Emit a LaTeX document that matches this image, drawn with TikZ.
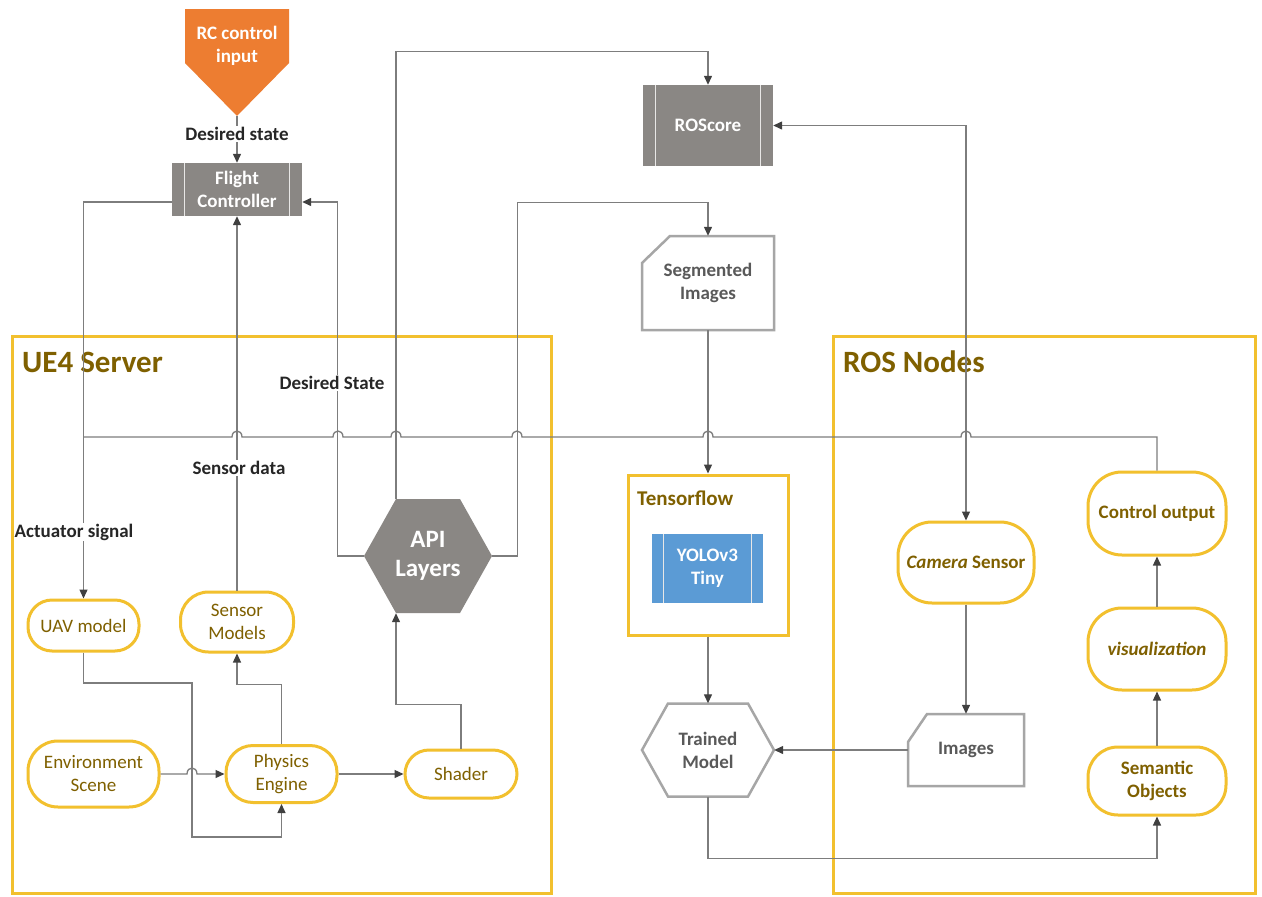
\documentclass[tikz,border=0pt]{standalone}
\usepackage{fontspec}
\setmainfont{Carlito}
\usetikzlibrary{arrows.meta,calc}
\definecolor{olivetext}{RGB}{127,96,0}
\definecolor{gold}{RGB}{242,192,46}
\definecolor{procgray}{RGB}{138,135,132}
\definecolor{wiregray}{RGB}{125,125,125}
\definecolor{tipgray}{RGB}{64,64,64}
\definecolor{cardgray}{RGB}{166,166,166}
\definecolor{cardtext}{RGB}{89,89,89}
\definecolor{rcorange}{RGB}{237,125,49}
\definecolor{yoloblue}{RGB}{91,155,213}
\definecolor{labeltext}{RGB}{38,38,38}
\tikzset{
  wire/.style={draw=wiregray, line width=1.3pt},
  flow/.style={wire, -{Triangle[length=9pt, width=8pt, color=tipgray]}},
  biflow/.style={wire, {Triangle[length=9pt, width=8pt, color=tipgray]}-{Triangle[length=9pt, width=8pt, color=tipgray]}},
  txt/.style={font=\bfseries\fontsize{19}{23}\selectfont},
  lbl/.style={txt, text=labeltext, fill=white, inner sep=1pt},
  proc/.style={rectangle, fill=procgray, text=white, txt, align=center, inner sep=0pt},
  procbar/.style={draw=white!80!procgray, line width=0.8pt},
  pill/.style={rectangle, rounded corners=#1, draw=gold, line width=3pt, fill=white,
    text=olivetext, align=center, inner sep=0pt, font=\fontsize{19}{23}\selectfont},
  pill/.default=24pt,
  pillb/.style={pill=#1, txt},
  pillb/.default=34pt,
  container/.style={draw=gold, line width=3pt, rectangle, inner sep=0pt},
  title/.style={font=\bfseries\fontsize{31}{35}\selectfont, text=olivetext, anchor=west, inner sep=0pt},
  ghost/.style={rectangle, inner sep=0pt, align=center, txt, text=cardtext},
  outline/.style={draw=cardgray, line width=2.5pt, line join=miter},
}
\begin{document}
\begin{tikzpicture}[x=1pt,y=-1pt]
\fill[white] (0,0) rectangle (1262,897);
\useasboundingbox (0,0) rectangle (1262,897);

% group frames
\node[container, minimum width=539pt, minimum height=557pt] (ue4box) at (281.5,614.5) {};
\node[title] (ue4title) at (22,362) {UE4 Server};
\node[container, minimum width=422pt, minimum height=557pt] (rosbox) at (1044,614.5) {};
\node[title] (rostitle) at (843,362) {ROS Nodes};
\node[container, minimum width=160pt, minimum height=160pt] (tf) at (708,555) {};
\node[title, font=\bfseries\fontsize{21}{25}\selectfont] (tftitle) at (637,498) {Tensorflow};

% RC input (off-page connector)
\fill[rcorange] (185,9) -- (289,9) -- (289,63) -- (237,116) -- (185,63) -- cycle;
\node[txt, text=white, align=center] (rc) at (237,46) {RC control\\input};
\coordinate (rctip) at (237,116);

% flight controller
\node[proc, minimum width=130pt, minimum height=53pt] (fc) at (237,189.5) {Flight\\Controller};
\draw[procbar] ([xshift=13pt]fc.north west) -- ([xshift=13pt]fc.south west);
\draw[procbar] ([xshift=-13pt]fc.north east) -- ([xshift=-13pt]fc.south east);

% ROScore
\node[proc, minimum width=130pt, minimum height=81pt] (ros) at (708,125.5) {ROScore};
\draw[procbar] ([xshift=13pt]ros.north west) -- ([xshift=13pt]ros.south west);
\draw[procbar] ([xshift=-13pt]ros.north east) -- ([xshift=-13pt]ros.south east);

% segmented images card
\draw[outline] (670,236) -- (774,236) -- (774,330) -- (642,330) -- (642,263) -- cycle;
\node[ghost, minimum width=132pt, minimum height=94pt] (seg) at (708,283) {Segmented\\Images};

% YOLO block
\node[proc, fill=yoloblue, minimum width=111pt, minimum height=69pt] (yolo) at (707.5,568.5) {YOLOv3\\Tiny};
\draw[procbar] ([xshift=12pt]yolo.north west) -- ([xshift=12pt]yolo.south west);
\draw[procbar] ([xshift=-12pt]yolo.north east) -- ([xshift=-12pt]yolo.south east);

% trained model hexagon
\draw[outline] (668,703.5) -- (748,703.5) -- (774,750) -- (748,796.5) -- (668,796.5) -- (642,750) -- cycle;
\node[ghost, minimum width=132pt, minimum height=93pt] (tm) at (708,750) {Trained\\Model};

% images card
\draw[outline] (927,714) -- (1024,714) -- (1024,786) -- (908,786) -- (908,742) -- cycle;
\node[ghost, minimum width=116pt, minimum height=72pt] (img) at (966,750) {Images};

% API layers hexagon
\fill[procgray] (364,556) -- (396,499) -- (460,499) -- (492,556) -- (460,613) -- (396,613) -- cycle;
\node[txt, text=white, font=\bfseries\fontsize{25}{29}\selectfont, align=center,
      minimum width=128pt, minimum height=114pt, inner sep=0pt] (api) at (428,556) {API\\Layers};

% ROS nodes
\node[pillb, minimum width=136pt, minimum height=81pt] (cam) at (966,562.5) {\textit{Camera} Sensor};
\node[pillb, minimum width=138pt, minimum height=83pt] (ctrl) at (1157,513.5) {Control output};
\node[pillb, minimum width=138pt, minimum height=82pt] (vis) at (1157,649) {\textit{visualization}};
\node[pillb=30pt, minimum width=138pt, minimum height=68pt] (sem) at (1157,781) {Semantic\\Objects};

% UE4 nodes
\node[pill, minimum width=111pt, minimum height=51pt] (uav) at (83.5,625.5) {UAV model};
\node[pill=28pt, minimum width=113pt, minimum height=60pt] (sensor) at (237,622) {Sensor\\Models};
\node[pill=30pt, minimum width=131pt, minimum height=66pt] (env) at (93.5,774) {Environment\\Scene};
\node[pill=27pt, minimum width=111pt, minimum height=57pt] (phys) at (281.5,774) {Physics\\Engine};
\node[pill, minimum width=112pt, minimum height=48pt] (shader) at (461,774) {Shader};

% control input path
\draw[flow] (rctip) -- (fc.north);
\node[lbl] (ldesired) at (237,134) {Desired state};

% actuator path
\draw[flow] ([yshift=-12.5pt]fc.west) -| (uav.north);
\node[lbl] (lact) at (74,532) {Actuator signal};

% API connections
\draw[flow] (api.west) -- ++(-26,0) |- ([yshift=-12.5pt]fc.east);
\node[lbl] (ldstate) at (332,383) {Desired State};
\draw[flow] ([xshift=-32pt]api.north) |- ($(ros.north)+(0,-33)$) -- (ros.north);
\draw[flow] (api.east) -- ++(25,0) |- ($(seg.north)+(0,-33)$) -- (seg.north);

% perception chain
\draw[flow] (seg.south) -- (tf.north);
\draw[flow] (tf.south) -- (tm.north);
\draw[flow] (img.west) -- (tm.east);
\draw[flow] (tm.south) |- ($(sem.south)+(0,42)$) -- (sem.south);
\draw[flow] (cam.south) -- (img.north);
\draw[biflow] (ros.east) -| (cam.north);
\draw[flow] (sem.north) -- (vis.south);
\draw[flow] (vis.north) -- (ctrl.south);

% control output bus, hopping over the vertical lines
\coordinate (busR) at (1157,437);
\draw[wire] (ctrl.north) -- (busR)
  foreach \hx in {966,708,517,396,338,237} {
    -- (\hx+5,437) .. controls (\hx+5,429) and (\hx-5,429) .. (\hx-5,437)
  } -- (uav.north |- busR);

% sensor data
\draw[flow] (sensor.north) -- (fc.south);
\node[lbl] (lsensor) at (239,468) {Sensor data};

% simulation internals
\coordinate (uavbendA) at (192,683);
\coordinate (uavbendB) at (192,837);
\draw[flow] (uav.south) |- (uavbendA) -- (uavbendB) -| (phys.south);
\draw[flow] (phys.north) |- ($(sensor.south)+(0,31)$) -- (sensor.south);
\draw[flow] (shader.north) |- ($([xshift=-32pt]api.south)+(0,91)$) -- ([xshift=-32pt]api.south);
\draw[flow] (env.east) -- (187,774) .. controls (187,766) and (197,766) .. (197,774) -- (phys.west);
\draw[flow] (phys.east) -- (shader.west);
\end{tikzpicture}
\end{document}
